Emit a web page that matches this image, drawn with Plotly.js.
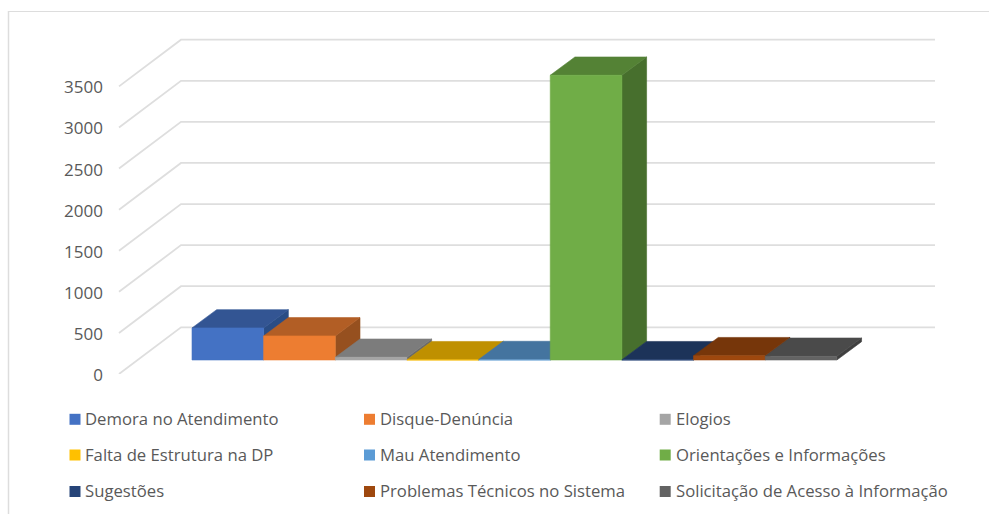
<!DOCTYPE html>
<html><head><meta charset="utf-8">
<script src="https://cdn.plot.ly/plotly-3.0.1.min.js"></script>
<style>html,body{margin:0;padding:0;background:#fff}</style></head>
<body><div id="chart" style="width:989px;height:514px"></div>
<script>
const categories = ["Demora no Atendimento","Disque-Denúncia","Elogios","Falta de Estrutura na DP","Mau Atendimento","Orientações e Informações","Sugestões","Problemas Técnicos no Sistema","Solicitação de Acesso à Informação"];
const values = [390,293,33,3,5,3465,3,52,45];
const frontColors = ["#4472C4","#ED7D31","#A5A5A5","#FFC000","#5B9BD5","#70AD47","#264478","#9E480E","#636363"];
const topColors = ["#335593","#B25E25","#7C7C7C","#BF9000","#44749F","#548235","#1C3359","#76360A","#4A4A4A"];
const sideColors = ["#2A4D85","#96501F","#6A6A6A","#A27A00","#3A6287","#476F2D","#182C4C","#652E09","#3F3F3F"];
const tickValues = [0,500,1000,1500,2000,2500,3000,3500];

const W=989,H=514,L=110,R=44,T=30,B=140;
const PX_PER_UNIT=0.08217, BAR_PX=71.65, BAR_LEFT=192;
const topVal=(H-T-B)/PX_PER_UNIT;
const u=px=>(px-BAR_LEFT)/BAR_PX;
const wallDX=62/BAR_PX, wallDY=46.7/PX_PER_UNIT;
const barDX=24.7/BAR_PX, barDY=18.3/PX_PER_UNIT, barBase=14/PX_PER_UNIT;
const px=x=>(x-L)/(W-L-R), py=y=>(H-B-y)/(H-T-B);
const FONT='"Open Sans", sans-serif', TXT='#595959', GRID='#DEDEDE';

const traces=[];
tickValues.forEach(v=>traces.push({type:'scatter',mode:'lines',x:[u(119),u(119)+wallDX,u(935)],y:[v,v+wallDY,v+wallDY],
  line:{color:GRID,width:1.8},hoverinfo:'skip',showlegend:false}));
function face(x,y,c,name){traces.push({type:'scatter',mode:'lines',x,y,fill:'toself',fillcolor:c,line:{color:c,width:0.6},name,showlegend:false});}
categories.forEach((c,i)=>{
  const b=barBase,t=barBase+values[i];
  face([i+1,i+1+barDX,i+1+barDX,i+1,i+1],[b,b+barDY,t+barDY,t,b],sideColors[i],c);
  face([i,i+barDX,i+1+barDX,i+1,i],[t,t+barDY,t+barDY,t,t],topColors[i],c);
  face([i,i+1,i+1,i,i],[b,b,t,t,b],frontColors[i],c);
});

const colX=[69.5,364,659.7], rowY=[419.3,455,491.5];
const shapes=[
 {type:'line',xref:'paper',yref:'paper',x0:px(8),x1:px(989),y0:py(11.5),y1:py(11.5),line:{color:'#DDDDDD',width:1.2}},
 {type:'line',xref:'paper',yref:'paper',x0:px(8.5),x1:px(8.5),y0:py(11),y1:py(514),line:{color:'#DDDDDD',width:1.5}}
];
const annotations=[];
categories.forEach((c,i)=>{
  const x=colX[i%3], y=rowY[Math.floor(i/3)];
  shapes.push({type:'rect',xref:'paper',yref:'paper',x0:px(x),x1:px(x+11),y0:py(y-5.5),y1:py(y+5.5),fillcolor:frontColors[i],line:{width:0}});
  annotations.push({xref:'paper',yref:'paper',x:px(x+14.8),y:py(y-1),xanchor:'left',yanchor:'middle',showarrow:false,text:c,borderpad:0,
    font:{family:FONT,size:16.7,color:TXT}});
});

Plotly.newPlot('chart',traces,{
  width:W,height:H,margin:{l:L,r:R,t:T,b:B,pad:0},autosize:false,
  paper_bgcolor:'#fff',plot_bgcolor:'#fff',showlegend:false,
  xaxis:{visible:false,range:[u(L),u(W-R)],fixedrange:true},
  yaxis:{range:[0,topVal],tickmode:'array',tickvals:tickValues,showgrid:false,zeroline:false,showline:false,
    ticks:'',ticklabelstandoff:6,ticklabelshift:1,tickfont:{family:FONT,size:17,color:TXT},fixedrange:true},
  shapes,annotations
},{displayModeBar:false,staticPlot:true});
</script></body></html>
